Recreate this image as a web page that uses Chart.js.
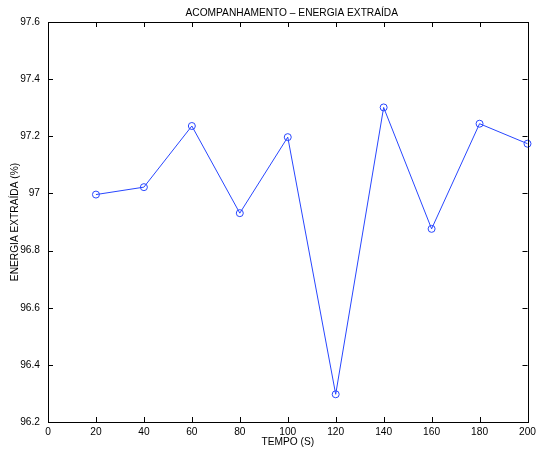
<!DOCTYPE html>
<html>
<head>
<meta charset="utf-8">
<script src="https://cdn.jsdelivr.net/npm/chart.js@4"></script>
<style>
    html, body { margin: 0; padding: 0; background: #fff; }
    #chart { display: block; }
</style>
</head>
<body>
<canvas id="chart" width="540" height="451"></canvas>
<script>
    "use strict";

    // Data
    var tempo = [20, 40, 60, 80, 100, 120, 140, 160, 180, 200];
    var energia = [96.996, 97.022, 97.236, 96.931, 97.197, 96.297, 97.301, 96.876, 97.244, 97.174];
    var xTicks = [0, 20, 40, 60, 80, 100, 120, 140, 160, 180, 200];
    var yTicks = [96.2, 96.4, 96.6, 96.8, 97, 97.2, 97.4, 97.6];
    var titulo = "ACOMPANHAMENTO \u2013 ENERGIA EXTRAÍDA";

    var FONT = "'Liberation Sans', Arial, Helvetica, sans-serif";
    var BLUE = "rgb(40, 70, 255)";

    var points = tempo.map(function (t, i) { return {x: t, y: energia[i]}; });

    // Matlab-like box with inward ticks on every side, plus the title
    var boxPlugin = {
        id: "box",
        afterDraw: function (chart) {
            var ctx = chart.ctx;
            var a = chart.chartArea;
            var xs = chart.scales.x, ys = chart.scales.y;
            var len = 5;
            ctx.save();
            ctx.strokeStyle = "#000";
            ctx.lineWidth = 1;
            ctx.beginPath();
            xTicks.forEach(function (v) {
                var px = Math.round(xs.getPixelForValue(v)) + 0.5;
                ctx.moveTo(px, a.bottom); ctx.lineTo(px, a.bottom - len);
                ctx.moveTo(px, a.top); ctx.lineTo(px, a.top + len);
            });
            yTicks.forEach(function (v) {
                var py = Math.round(ys.getPixelForValue(v)) + 0.5;
                ctx.moveTo(a.left, py); ctx.lineTo(a.left + len, py);
                ctx.moveTo(a.right, py); ctx.lineTo(a.right - len, py);
            });
            ctx.stroke();
            ctx.strokeRect(Math.round(a.left) + 0.5, Math.round(a.top) + 0.5,
                Math.round(a.right - a.left), Math.round(a.bottom - a.top));

            ctx.fillStyle = "#000";
            ctx.font = "10.2px " + FONT;
            ctx.textAlign = "center";
            ctx.textBaseline = "middle";
            ctx.fillText(titulo, (a.left + a.right) / 2 + 4, 13);
            ctx.restore();
        }
    };

    var ctx1 = document.getElementById("chart").getContext("2d");
    var myChart1 = new Chart(ctx1, {
        type: "line",
        data: {
            datasets: [{
                data: points,
                borderColor: BLUE,
                borderWidth: 1,
                backgroundColor: "rgba(0,0,0,0)",
                pointStyle: "circle",
                pointRadius: 3.5,
                pointBorderWidth: 1,
                pointBorderColor: BLUE,
                pointBackgroundColor: "rgba(0,0,0,0)",
                tension: 0,
                fill: false,
                clip: false
            }]
        },
        options: {
            responsive: false,
            animation: false,
            layout: {padding: {left: 0, right: 9, top: 22, bottom: 0}},
            plugins: {
                legend: {display: false},
                tooltip: {enabled: false},
                title: {display: false}
            },
            scales: {
                x: {
                    type: "linear",
                    min: 0,
                    max: 200,
                    afterFit: function (s) { s.height = 29; },
                    afterBuildTicks: function (s) { s.ticks = xTicks.map(function (v) { return {value: v}; }); },
                    grid: {display: false, drawTicks: false},
                    border: {display: false},
                    ticks: {
                        color: "#000",
                        padding: 4,
                        maxRotation: 0,
                        autoSkip: false,
                        font: {family: FONT, size: 10.2}
                    },
                    title: {
                        display: true,
                        text: "TEMPO (S)",
                        color: "#000",
                        font: {family: FONT, size: 10.2},
                        padding: {top: 0, bottom: 2.5}
                    }
                },
                y: {
                    type: "linear",
                    min: 96.2,
                    max: 97.6,
                    afterFit: function (s) { s.width = 48; },
                    afterBuildTicks: function (s) { s.ticks = yTicks.map(function (v) { return {value: v}; }); },
                    grid: {display: false, drawTicks: false},
                    border: {display: false},
                    ticks: {
                        color: "#000",
                        padding: 8,
                        autoSkip: false,
                        font: {family: FONT, size: 10.2},
                        callback: function (v) { return String(+v.toFixed(1)); }
                    },
                    title: {
                        display: true,
                        text: "ENERGIA EXTRAÍDA (%)",
                        color: "#000",
                        font: {family: FONT, size: 10.2},
                        padding: {top: 9, bottom: 0}
                    }
                }
            }
        },
        plugins: [boxPlugin]
    });
</script>
</body>
</html>
